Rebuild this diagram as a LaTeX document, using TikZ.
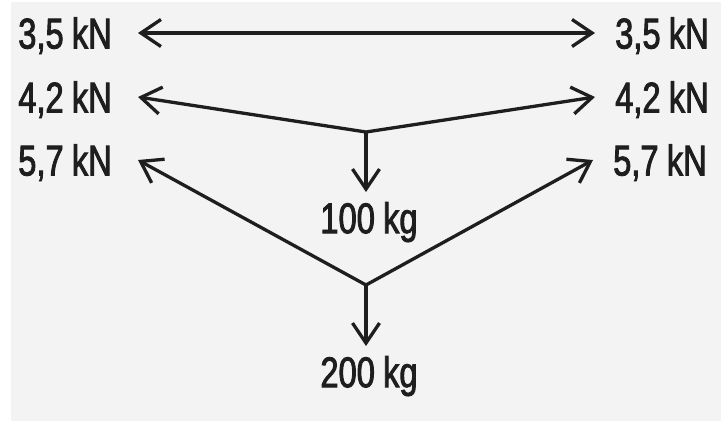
\documentclass[tikz,border=0pt]{standalone}
\usepackage{fontspec}
\setmainfont[FakeStretch=0.76,FakeBold=2,WordSpace=0.9]{Liberation Sans}
\usetikzlibrary{arrows.meta}
\definecolor{bgc}{RGB}{243,243,243}
\definecolor{ink}{RGB}{30,30,30}
\begin{document}
\begin{tikzpicture}[x=1pt,y=-1pt,
  lab/.style={font=\fontsize{43}{43}\selectfont, text=ink, inner ysep=0pt, text height=31pt, text depth=0pt},
  leftlab/.style={lab, inner xsep=26pt, anchor=east},
  rightlab/.style={lab, inner xsep=20pt, anchor=west},
  loadlab/.style={lab, inner xsep=0pt, inner ysep=10pt, anchor=north},
  force/.style={draw=ink, line width=3.3pt, line join=round,
    arrows={-Straight Barb[length=20pt,width=27pt,line width=3.3pt]}},
  dforce/.style={force, arrows={Straight Barb[length=20pt,width=27pt,line width=3.3pt]-Straight Barb[length=20pt,width=27pt,line width=3.3pt]}}]
\useasboundingbox (0,0) rectangle (721,421);
\fill[bgc] (11,2) rectangle (721,421);
% labels
\node[leftlab] (l35) at (138,33) {3,5 kN};
\node[leftlab] (l42) at (138,97) {4,2 kN};
\node[leftlab] (l57) at (138,160) {5,7 kN};
\node[rightlab] (r35) at (595,33) {3,5 kN};
\node[rightlab] (r42) at (595,97) {4,2 kN};
\node[rightlab] (r57) at (593,160) {5,7 kN};
\node[loadlab] (m100) at (369,192) {100 kg};
\node[loadlab] (m200) at (369,346) {200 kg};
\coordinate (j1) at (366,132);
\coordinate (j2) at (366,285);
% connectors
\draw[dforce] (l35.east) -- (r35.west);
\draw[dforce] (l42.east) -- (j1) -- (r42.west);
\draw[force] (j1) -- (j1 |- m100.north);
\draw[dforce] (l57.east) -- (j2) -- (r57.west);
\draw[force] (j2) -- (j2 |- m200.north);
\end{tikzpicture}
\end{document}
